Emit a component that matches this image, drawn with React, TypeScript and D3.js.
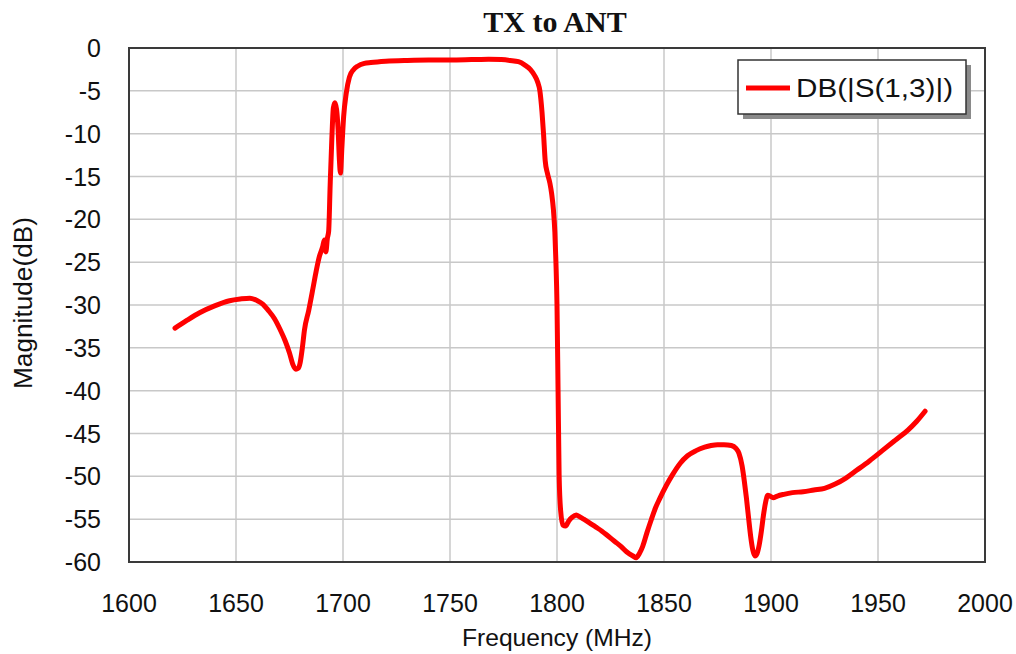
import React from "react";
import * as d3 from "d3";

const freqMHz: number[] = [
  1621.5, 1627, 1633, 1640, 1647, 1652, 1656.5, 1660, 1662.5, 1665, 1668, 1670.5, 1673, 1675, 1676.5, 1678,
  1679, 1680, 1681, 1682, 1684, 1686, 1687.5, 1689, 1690.5, 1691.3, 1692, 1692.7, 1693.3, 1694, 1694.8,
  1695.5, 1696.2, 1697, 1697.7, 1698.3, 1698.8, 1699.5, 1700.3, 1701.5, 1703, 1705, 1707, 1710, 1713,
  1720, 1730, 1740, 1750, 1760, 1768, 1774, 1778, 1782, 1785, 1787.5, 1789.5, 1791, 1792, 1793, 1793.7,
  1794.5, 1795.5, 1796.7, 1797.5, 1798.3, 1799, 1799.5, 1800, 1800.5, 1801, 1801.7, 1802.8, 1804, 1805.5,
  1807, 1809, 1810.5, 1812.5, 1815, 1818, 1821, 1824, 1827, 1830, 1832.5, 1835.5, 1837, 1838.5, 1840,
  1842, 1844, 1846, 1848, 1851, 1854, 1857.5, 1861, 1865, 1869, 1872, 1875, 1878, 1881.5, 1883.5, 1885,
  1886.5, 1887.5, 1888.5, 1889.5, 1890.5, 1891.5, 1892.5, 1893.5, 1894.5, 1895.5, 1896.5, 1897.5, 1898.5,
  1899.5, 1901, 1903, 1906, 1910, 1915, 1920, 1925, 1930, 1935, 1940, 1946, 1952, 1958, 1964, 1968, 1972,
];

const s13dB: number[] = [
  -32.7, -31.8, -30.9, -30.1, -29.5, -29.3, -29.2, -29.5, -29.9, -30.6, -31.6, -32.8, -34.2, -35.6, -36.9, -37.5,
  -37.4, -36.7, -35, -32.9, -30.6, -28, -26, -24.3, -23.2, -22.4, -23.8, -22.2, -21.4, -16, -10.5,
  -7, -6.4, -7.2, -9.5, -13, -14.6, -11.5, -8, -5.3, -3.4, -2.5, -2.1, -1.8, -1.7,
  -1.55, -1.45, -1.4, -1.4, -1.35, -1.3, -1.35, -1.45, -1.6, -2, -2.5, -3.2, -4, -5, -7.5, -10,
  -13.2, -14.6, -15.8, -17, -18.8, -21.5, -25, -30, -40, -50, -54, -55.7, -55.8, -55.2,
  -54.8, -54.5, -54.7, -55, -55.4, -55.9, -56.4, -57, -57.6, -58.2, -58.8, -59.3, -59.5, -59, -58.2,
  -56.6, -55.1, -53.7, -52.6, -51.1, -49.8, -48.5, -47.6, -47, -46.6, -46.4, -46.3, -46.3, -46.4, -46.7, -47.3,
  -48.8, -50.5, -52.5, -54.8, -57, -58.6, -59.3, -59, -58, -56.4, -54.5, -53, -52.2,
  -52.3, -52.5, -52.3, -52.1, -51.9, -51.8, -51.6, -51.4, -50.9, -50.2, -49.3, -48.2, -47, -45.8, -44.6, -43.6, -42.4,
];

const xTicks: number[] = [1600, 1650, 1700, 1750, 1800, 1850, 1900, 1950, 2000];
const yTicks: number[] = [0, -5, -10, -15, -20, -25, -30, -35, -40, -45, -50, -55, -60];

const titleText = "TX to ANT";
const xLabel = "Frequency (MHz)";
const yLabel = "Magnitude(dB)";
const legendLabel = "DB(|S(1,3)|)";

const W = 1016;
const H = 654;
const plot = { left: 129, right: 985, top: 48, bottom: 562 };
const sans = "'Liberation Sans', Arial, Helvetica, sans-serif";
const serif = "'Liberation Serif', 'Times New Roman', serif";

export default function App() {
  const x = d3.scaleLinear().domain([1600, 2000]).range([plot.left, plot.right]);
  const y = d3.scaleLinear().domain([-60, 0]).range([plot.bottom, plot.top]);
  const data = freqMHz.map((f, i) => [f, s13dB[i]] as [number, number]);
  const line = d3
    .line<[number, number]>()
    .x((d) => x(d[0]))
    .y((d) => y(d[1]))
    .curve(d3.curveMonotoneX);
  const path = line(data) || "";

  const lg = { x: 738, y: 60, w: 228, h: 54 };

  return (
    <svg
      width={W}
      height={H}
      viewBox={`0 0 ${W} ${H}`}
      style={{ position: "absolute", left: 0, top: 0, background: "#fff" }}
    >
      <rect x={0} y={0} width={W} height={H} fill="#fff" />
      {/* grid */}
      {xTicks.map((t) => (
        <line key={"gx" + t} x1={x(t)} x2={x(t)} y1={plot.top} y2={plot.bottom} stroke="#c8c8c8" strokeWidth={1.5} />
      ))}
      {yTicks.map((t) => (
        <line key={"gy" + t} x1={plot.left} x2={plot.right} y1={y(t)} y2={y(t)} stroke="#c8c8c8" strokeWidth={1.5} />
      ))}
      {/* frame */}
      <rect
        x={plot.left}
        y={plot.top}
        width={plot.right - plot.left}
        height={plot.bottom - plot.top}
        fill="none"
        stroke="#3a3a3a"
        strokeWidth={2}
      />
      {/* tick labels */}
      {xTicks.map((t) => (
        <text key={"tx" + t} x={x(t)} y={612} textAnchor="middle" fontFamily={sans} fontSize={25} fill="#111">
          {t}
        </text>
      ))}
      {yTicks.map((t) => (
        <text key={"ty" + t} x={101} y={y(t) + 9} textAnchor="end" fontFamily={sans} fontSize={25} fill="#111">
          {t}
        </text>
      ))}
      {/* curve */}
      <path d={path} fill="none" stroke="#ff0000" strokeWidth={5} strokeLinejoin="round" strokeLinecap="round" />
      {/* title */}
      <text x={555} y={32} textAnchor="middle" fontFamily={serif} fontWeight="bold" fontSize={30} fill="#111">
        {titleText}
      </text>
      {/* axis labels */}
      <text
        x={557}
        y={646}
        textAnchor="middle"
        fontFamily={sans}
        fontSize={24}
        fill="#111"
        textLength={190}
        lengthAdjust="spacingAndGlyphs"
      >
        {xLabel}
      </text>
      <text
        transform={`translate(32, ${(plot.top + plot.bottom) / 2 - 2}) rotate(-90)`}
        textAnchor="middle"
        fontFamily={sans}
        fontSize={25}
        fill="#111"
        textLength={172}
        lengthAdjust="spacingAndGlyphs"
      >
        {yLabel}
      </text>
      {/* legend */}
      <rect x={lg.x + 5} y={lg.y + 5} width={lg.w} height={lg.h} fill="#8a8a8a" />
      <rect x={lg.x} y={lg.y} width={lg.w} height={lg.h} fill="#fff" stroke="#333" strokeWidth={1.5} />
      <line x1={lg.x + 8} x2={lg.x + 52} y1={lg.y + 28} y2={lg.y + 28} stroke="#ff0000" strokeWidth={5} />
      <text
        x={lg.x + 58}
        y={lg.y + 37}
        fontFamily={sans}
        fontSize={26}
        fill="#111"
        textLength={157}
        lengthAdjust="spacingAndGlyphs"
      >
        {legendLabel}
      </text>
    </svg>
  );
}
